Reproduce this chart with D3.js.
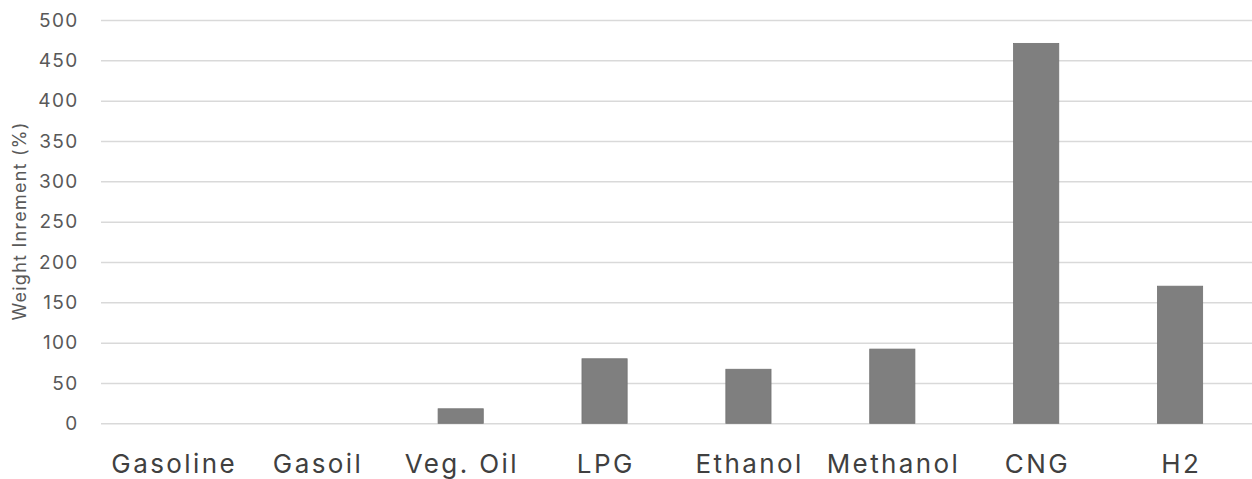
<!DOCTYPE html>
<html><head><meta charset="utf-8">
<script src="https://cdn.jsdelivr.net/npm/d3@7"></script>
<style>html,body{margin:0;padding:0;background:#fff;}svg{display:block;}</style>
</head><body>
<svg id="chart" width="1252" height="479"></svg>
<script>
const categories = ["Gasoline","Gasoil","Veg. Oil","LPG","Ethanol","Methanol","CNG","H2"];
const values = [0, 0, 18, 80, 67, 92, 471, 170];
const yTicks = [0,50,100,150,200,250,300,350,400,450,500];
const yTitle = "Weight Inrement (%)";

const svg = d3.select("#chart");
const font = "Inter, sans-serif";
const mLeft = 101, mRight = 1252, mTop = 20, mBottom = 423.3;

const x = d3.scaleBand().domain(categories).range([mLeft, mRight]).paddingInner(0.686).paddingOuter(0.343);
const y = d3.scaleLinear().domain([0, 500]).range([mBottom, mTop]);

// gridlines
const gy = svg.append("g").attr("transform", `translate(${mLeft},0)`)
  .call(d3.axisLeft(y).tickValues(yTicks).tickSize(-(mRight-mLeft)).tickPadding(22.5).tickFormat(d3.format("d")));
gy.select(".domain").remove();
gy.selectAll(".tick line").attr("stroke", "#d9d9d9").attr("stroke-width", 1.5);
gy.selectAll(".tick text").attr("fill", "#595959").style("font-family", font).style("font-size", "19px").style("letter-spacing", "1.3px");

// bars
svg.append("g").selectAll("rect").data(values).join("rect")
  .attr("x", (d,i) => x(categories[i]))
  .attr("width", x.bandwidth())
  .attr("y", d => y(d))
  .attr("height", d => y(0) - y(d))
  .attr("fill", "#7f7f7f")
  .attr("stroke", "#737373").attr("stroke-width", 0.8);

// x axis labels
const gx = svg.append("g").attr("transform", `translate(0,${mBottom})`)
  .call(d3.axisBottom(x).tickSize(0).tickPadding(31));
gx.select(".domain").remove();
gx.selectAll(".tick text").attr("fill", "#404040").style("font-family", font).style("font-size", "26px").style("letter-spacing", "2.4px")
  .attr("dx", "1.2px");

// y title
svg.append("text")
  .attr("transform", `translate(26,${(120+322)/2}) rotate(-90)`)
  .attr("text-anchor", "middle")
  .attr("fill", "#595959").style("font-family", font).style("font-size", "18px").style("letter-spacing", "1.25px")
  .text(yTitle);
</script>
</body></html>
